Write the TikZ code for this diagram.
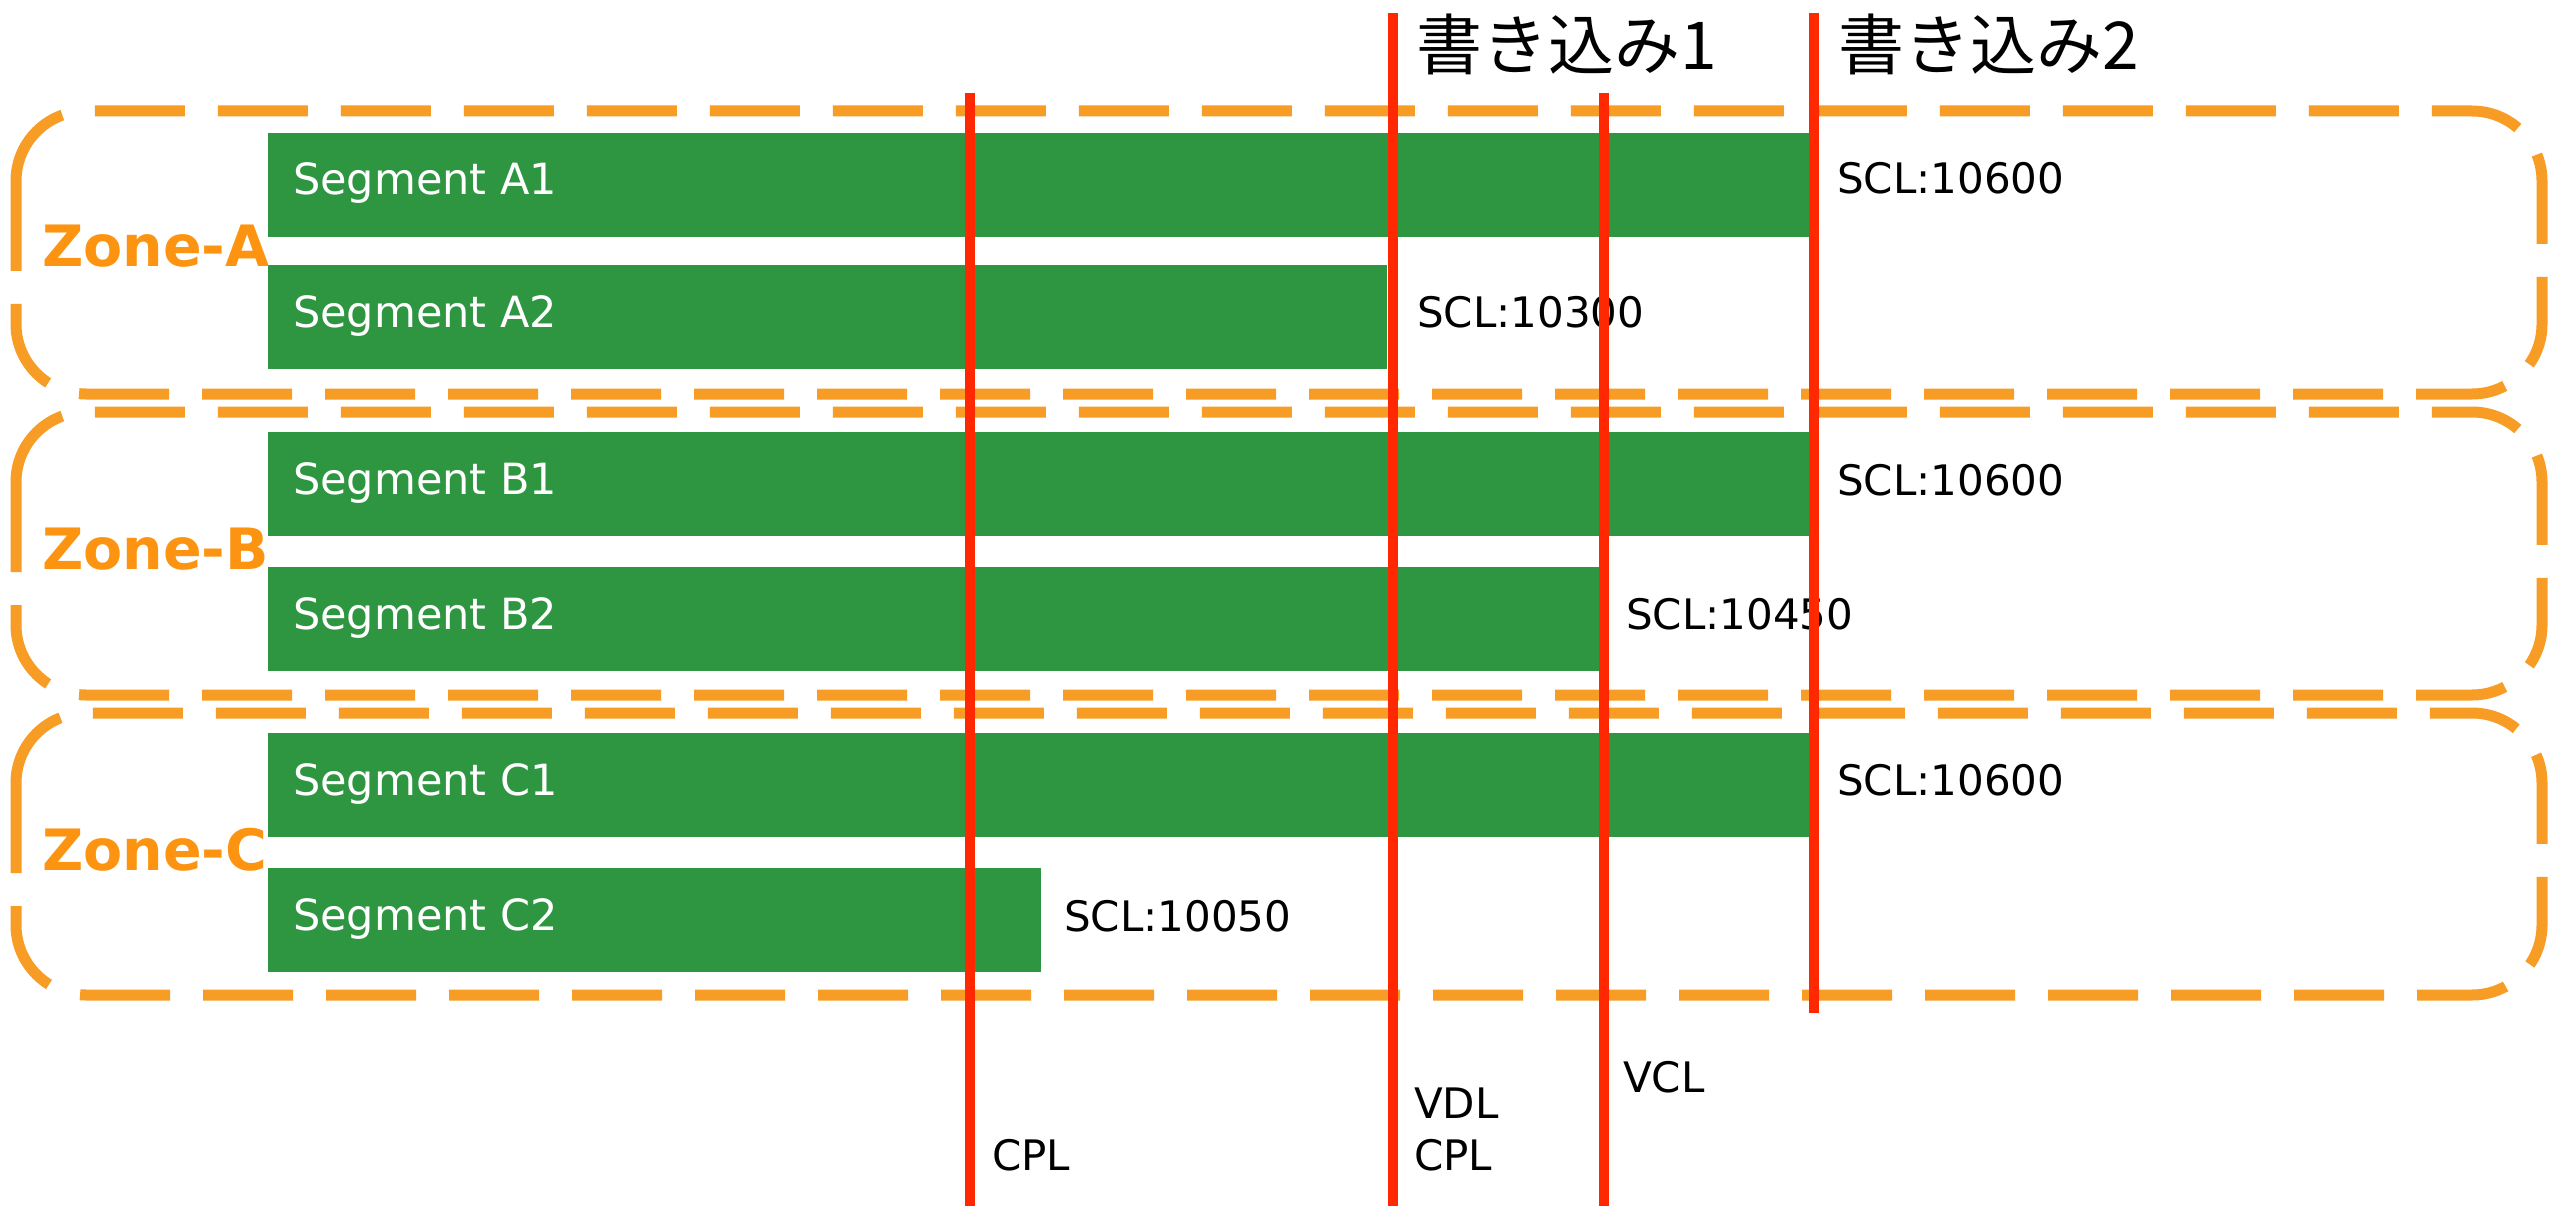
\documentclass[tikz,border=0pt]{standalone}
\usepackage{fontspec}
\setmainfont{DejaVu Sans}
\newfontfamily\jpfont{Noto Sans CJK JP}
\definecolor{barGreen}{RGB}{46,150,64}
\definecolor{zoneOrange}{RGB}{247,157,38}
\definecolor{labelOrange}{RGB}{252,148,18}
\definecolor{lineRed}{RGB}{255,40,0}
\tikzset{
  zonebox/.style={draw=zoneOrange, line width=11pt, dash pattern=on 90pt off 33pt, rounded corners=70pt},
  bar/.style={fill=barGreen, draw=none, minimum height=104pt, inner sep=0pt, anchor=north west},
  segtext/.style={text=white, font=\fontsize{43}{50}\selectfont, inner sep=0pt, anchor=base west},
  zonetext/.style={text=labelOrange, font=\fontsize{57}{66}\selectfont\bfseries, inner sep=0pt, anchor=base west},
  scltext/.style={text=black, font=\fontsize{42}{50}\selectfont, inner sep=0pt, anchor=base west},
  jptext/.style={text=black, font=\fontsize{66}{76}\selectfont\jpfont, inner sep=0pt, anchor=base west},
  redline/.style={draw=lineRed, line width=10pt}
}
\begin{document}
\begin{tikzpicture}[x=1pt,y=-1pt]
\useasboundingbox (0,0) rectangle (2549,1206);
\fill[white] (0,0) rectangle (2549,1206);
% zones
\draw[zonebox] (16,111) rectangle (2542,394);
\draw[zonebox] (16,412) rectangle (2542,695);
\draw[zonebox] (16,713) rectangle (2542,995);
% bars
\node[bar, minimum width=1543pt] (A1) at (268,133) {};
\node[bar, minimum width=1119pt] (A2) at (268,265) {};
\node[bar, minimum width=1543pt] (B1) at (268,432) {};
\node[bar, minimum width=1331pt] (B2) at (268,567) {};
\node[bar, minimum width=1543pt] (C1) at (268,733) {};
\node[bar, minimum width=773pt] (C2) at (268,868) {};
% segment texts
\node[segtext] (tA1) at (293,195) {Segment A1};
\node[segtext] (tA2) at (293,327) {Segment A2};
\node[segtext] (tB1) at (293,494) {Segment B1};
\node[segtext] (tB2) at (293,629) {Segment B2};
\node[segtext] (tC1) at (293,795) {Segment C1};
\node[segtext] (tC2) at (293,930) {Segment C2};
% zone labels
\node[zonetext] (zA) at (42,267) {Zone-A};
\node[zonetext] (zB) at (42,569) {Zone-B};
\node[zonetext] (zC) at (42,870) {Zone-C};
% SCL labels
\node[scltext] (sA1) at (1837,194) {SCL:10600};
\node[scltext] (sA2) at (1417,327) {SCL:10300};
\node[scltext] (sB1) at (1837,495) {SCL:10600};
\node[scltext] (sB2) at (1626,629) {SCL:10450};
\node[scltext] (sC1) at (1837,795) {SCL:10600};
\node[scltext] (sC2) at (1064,931) {SCL:10050};
% headings
\node[jptext] (w1) at (1416,70) {書き込み1};
\node[jptext] (w2) at (1838,70) {書き込み2};
% bottom labels
\node[scltext] (cpl1) at (992,1170) {CPL};
\node[scltext] (vdl) at (1414,1118) {VDL};
\node[scltext] (cpl2) at (1414,1170) {CPL};
\node[scltext] (vcl) at (1623,1092) {VCL};
% red lines
\coordinate (cplTop) at (970,93);
\coordinate (cplBot) at (970,1206);
\coordinate (vdlTop) at (1393,13);
\coordinate (vdlBot) at (1393,1206);
\coordinate (vclTop) at (1604,93);
\coordinate (vclBot) at (1604,1206);
\coordinate (w2Top) at (1814,13);
\coordinate (w2Bot) at (1814,1013);
\draw[redline] (cplTop) -- (cplBot);
\draw[redline] (vdlTop) -- (vdlBot);
\draw[redline] (vclTop) -- (vclBot);
\draw[redline] (w2Top) -- (w2Bot);
\end{tikzpicture}
\end{document}
